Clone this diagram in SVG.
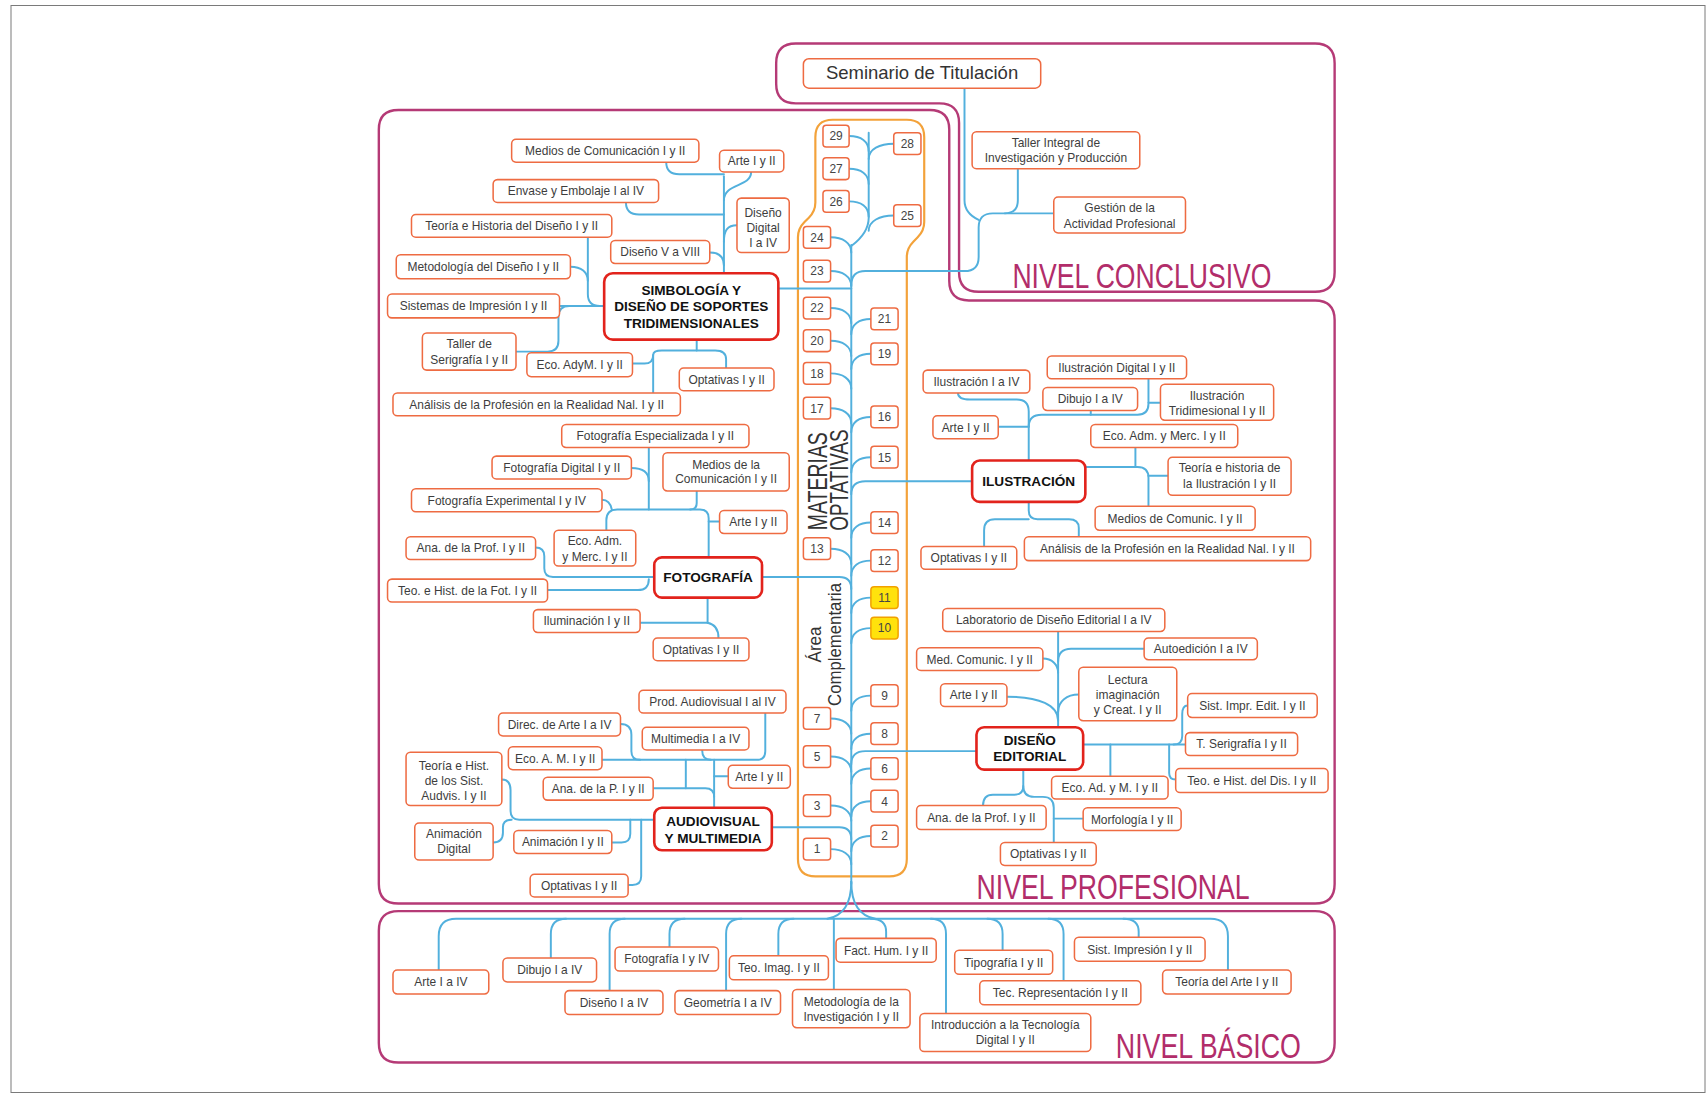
<svg xmlns="http://www.w3.org/2000/svg" width="1707" height="1096" viewBox="0 0 1707 1096">
<style>
  .n rect{fill:#fff;stroke:#ee6b42;stroke-width:1.4}
  .n text{font-family:"Liberation Sans",Arial,sans-serif;font-size:11px;fill:#3d3d3d;text-anchor:middle}
  .g rect{fill:#fff;stroke:#e2231c;stroke-width:2.4}
  .g text{font-family:"Liberation Sans",Arial,sans-serif;font-size:12.5px;font-weight:bold;fill:#111;text-anchor:middle}
  .num rect{fill:#fff;stroke:#ee6b42;stroke-width:1.4}
  .num rect.hl{fill:#ffe20c;stroke:#f2a100}
  .num text{font-family:"Liberation Sans",Arial,sans-serif;font-size:11px;fill:#444;text-anchor:middle}
  #connectors path{fill:none;stroke:#52b0dd;stroke-width:1.8;stroke-linecap:round;stroke-linejoin:round}
  .lvl{fill:none;stroke:#b53a76;stroke-width:2.2}
  .lbl{font-family:"Liberation Sans Narrow","Liberation Sans",Arial,sans-serif;fill:#b22d6a;lengthAdjust:spacingAndGlyphs}
  .vt{font-family:"Liberation Sans Narrow","Liberation Sans",Arial,sans-serif;fill:#333;text-anchor:middle}
</style>
<rect x="11" y="5.5" width="1694" height="1087" fill="#fff" stroke="#7a7a7a" stroke-width="1"/>
<g transform="scale(1.0886)">
  <!-- level frames -->
  <g id="levels">
    <path class="lvl" d="M713,58 Q713,40 731,40 H1208 Q1226,40 1226,58 V250 Q1226,268 1208,268 H899 Q881,268 881,250 V113 Q881,95 863,95 H731 Q713,95 713,77 Z"/>
    <path class="lvl" d="M348,119 Q348,101 366,101 H854 Q872,101 872,119 V258 Q872,276 890,276 H1208 Q1226,276 1226,294 V812 Q1226,830 1208,830 H366 Q348,830 348,812 Z"/>
    <path class="lvl" d="M348,855 Q348,837 366,837 H1208 Q1226,837 1226,855 V958 Q1226,976 1208,976 H366 Q348,976 348,958 Z"/>
    <text class="lbl" x="930" y="265" font-size="33" textLength="238" lengthAdjust="spacingAndGlyphs">NIVEL CONCLUSIVO</text>
    <text class="lbl" x="897" y="826" font-size="33" textLength="251" lengthAdjust="spacingAndGlyphs">NIVEL PROFESIONAL</text>
    <text class="lbl" x="1025" y="972" font-size="33" textLength="170" lengthAdjust="spacingAndGlyphs">NIVEL BÁSICO</text>
  </g>

  <!-- elective column -->
  <g id="optativas">
    <path d="M749,126 Q749,110 765,110 H833 Q849,110 849,126 V204 Q849,212 843,218 L839,222 Q833,228 833,236 V789 Q833,805 817,805 H749 Q733,805 733,789 V218 Q733,210 739,204 L743,200 Q749,194 749,186 Z" fill="none" stroke="#f3a23a" stroke-width="2"/>
    <text class="vt" transform="translate(760,442) rotate(-90)" font-size="26" textLength="90" lengthAdjust="spacingAndGlyphs">MATERIAS</text>
    <text class="vt" transform="translate(779,441) rotate(-90)" font-size="24" textLength="93" lengthAdjust="spacingAndGlyphs">OPTATIVAS</text>
    <text class="vt" transform="translate(754,592) rotate(-90)" font-size="17" textLength="33" lengthAdjust="spacingAndGlyphs">Área</text>
    <text class="vt" transform="translate(773,592) rotate(-90)" font-size="17" textLength="113" lengthAdjust="spacingAndGlyphs">Complementaria</text>
  </g>

  <!-- connectors -->
  <g id="connectors">
    <!-- trunk -->
    <path d="M782,225 V812"/>
    <path d="M798,122 V200 Q798,214 782,226"/>
    <path d="M782,810 Q782,840 760,844"/>
    <path d="M782,810 Q782,840 804,844"/>
    <!-- numbered electives to trunk -->
    <path d="M780,125 C791,125 798,130 798,139"/>
    <path d="M780,155 C791,155 798,160 798,169"/>
    <path d="M780,185 C791,185 798,190 798,199"/>
    <path d="M821,132 C808,132 798,137 798,146"/>
    <path d="M821,198 C808,198 798,203 798,212"/>
    <path d="M763,218 C774,218 782,223 782,232"/>
    <path d="M763,249 C774,249 782,254 782,263"/>
    <path d="M763,283 C774,283 782,288 782,297"/>
    <path d="M763,313 C774,313 782,318 782,327"/>
    <path d="M763,343 C774,343 782,348 782,357"/>
    <path d="M763,375 C774,375 782,380 782,389"/>
    <path d="M763,504 C774,504 782,509 782,518"/>
    <path d="M763,660 C774,660 782,665 782,674"/>
    <path d="M763,695 C774,695 782,700 782,709"/>
    <path d="M763,740 C774,740 782,745 782,754"/>
    <path d="M763,780 C774,780 782,785 782,794"/>
    <path d="M800,293 C789,293 782,298 782,307"/>
    <path d="M800,325 C789,325 782,330 782,339"/>
    <path d="M800,383 C789,383 782,388 782,397"/>
    <path d="M800,420 C789,420 782,425 782,434"/>
    <path d="M800,480 C789,480 782,485 782,494"/>
    <path d="M800,515 C789,515 782,520 782,529"/>
    <path d="M800,549 C789,549 782,554 782,563"/>
    <path d="M800,577 C789,577 782,582 782,591"/>
    <path d="M800,639 C789,639 782,644 782,653"/>
    <path d="M800,674 C789,674 782,679 782,688"/>
    <path d="M800,706 C789,706 782,711 782,720"/>
    <path d="M800,736 C789,736 782,741 782,750"/>
    <path d="M800,768 C789,768 782,773 782,782"/>
    <!-- conclusive level -->
    <path d="M886,81 V184 Q886,196 899,202"/>
    <path d="M968,196 H912 Q899,196 899,209 V236 Q899,249 886,249 H795 Q782,249 782,262"/>
    <path d="M935,155 V184 Q935,196 923,196"/>
    <!-- simbologia -->
    <path d="M715,265 H782"/>
    <path d="M665,251 V162"/>
    <path d="M612,149 Q612,160 624,160 H665"/>
    <path d="M575,186 Q575,197 587,197 H665"/>
    <path d="M690,158 C690,172 665,168 665,184"/>
    <path d="M677,207 C668,207 665,212 665,222"/>
    <path d="M652,232 C660,232 665,236 665,244"/>
    <path d="M540,218 V270 Q540,281 551,281"/>
    <path d="M514,281 H555"/>
    <path d="M524,245 C534,245 540,250 540,258"/>
    <path d="M474,323 H503 Q513,323 513,313 V291 Q513,281 523,281"/>
    <path d="M640,312 V322"/>
    <path d="M581,334 H592 Q600,334 600,326 Q600,322 608,322 H657 Q667,322 667,330 V338"/>
    <path d="M600,326 V361"/>
    <!-- fotografia -->
    <path d="M700,530 H771 Q782,530 782,541"/>
    <path d="M651,512 V476 Q651,468 643,468 H567 Q557,468 557,478 V487"/>
    <path d="M661,479 H651"/>
    <path d="M553,459 C558,459 561,463 562,468"/>
    <path d="M596,411 V468"/>
    <path d="M580,430 C590,430 596,434 596,442"/>
    <path d="M640,451 V462 Q640,468 634,468"/>
    <path d="M492,503 Q500,503 500,511 V522 Q500,530 508,530 H601"/>
    <path d="M503,542 H586 Q596,542 596,532"/>
    <path d="M650,549 V572"/>
    <path d="M588,572 H650"/>
    <path d="M650,572 Q660,574 660,586"/>
    <!-- audiovisual -->
    <path d="M709,760 H771 Q782,760 782,771"/>
    <path d="M656,742 V698"/>
    <path d="M553,698 H695 Q703,698 703,690 V655"/>
    <path d="M570,665 Q580,665 580,675 V690 Q580,698 588,698"/>
    <path d="M645,689 Q645,698 653,698"/>
    <path d="M669,713 H656"/>
    <path d="M630,698 V724"/>
    <path d="M600,724 H648 Q656,724 656,732"/>
    <path d="M461,716 Q469,716 469,726 V745 Q469,753 477,753 H601"/>
    <path d="M453,774 Q462,774 462,765 V760 Q462,753 470,753"/>
    <path d="M562,774 H571 Q579,774 579,766 V753"/>
    <path d="M577,813 H581 Q589,813 589,805 V753"/>
    <!-- ilustracion -->
    <path d="M782,454 Q782,442 795,442 H893"/>
    <path d="M945,423 V378 Q945,367 934,367 H891 Q880,367 880,361"/>
    <path d="M917,392 H945"/>
    <path d="M945,392 Q945,381 957,381 H1045 Q1055,381 1055,371 V348"/>
    <path d="M1002,377 V381"/>
    <path d="M1066,370 H1055"/>
    <path d="M997,429 H1045 Q1055,429 1055,439 V465"/>
    <path d="M1043,411 V429"/>
    <path d="M1073,437 H1055"/>
    <path d="M945,461 V469 Q945,477 953,477 H982 Q991,477 991,485 V493"/>
    <path d="M945,477 H914 Q904,477 904,487 V502"/>
    <!-- diseno editorial -->
    <path d="M897,690 H795 Q782,690 782,702"/>
    <path d="M972,668 V580"/>
    <path d="M1051,596 H984 Q972,596 972,608"/>
    <path d="M958,605 C966,605 972,610 972,618"/>
    <path d="M991,638 C980,638 972,644 972,654"/>
    <path d="M925,640 C955,640 972,648 972,662"/>
    <path d="M995,684 H1089"/>
    <path d="M1078,684 Q1086,684 1086,676 V656 Q1086,648 1091,648"/>
    <path d="M1074,684 V710 Q1074,716 1080,716"/>
    <path d="M1020,684 V713"/>
    <path d="M940,707 V722 Q940,730 932,730 H912 Q903,730 903,740"/>
    <path d="M940,722 Q940,732 950,732 H958 Q968,732 968,742 V774"/>
    <path d="M968,752 H995"/>
    <!-- basic level bus -->
    <path d="M403,891 V860 Q403,844 419,844 H1112 Q1128,844 1128,860 V891"/>
    <path d="M520,844 Q506,844 506,858 V880"/>
    <path d="M574,844 Q560,844 560,858 V910"/>
    <path d="M629,844 Q615,844 615,858 V870"/>
    <path d="M681,844 Q667,844 667,858 V910"/>
    <path d="M729,844 Q715,844 715,858 V878"/>
    <path d="M766,844 V909"/>
    <path d="M800,844 Q814,844 814,856 V862"/>
    <path d="M855,844 Q869,844 869,858 V931"/>
    <path d="M907,844 Q921,844 921,858 V873"/>
    <path d="M963,844 Q977,844 977,858 V901"/>
    <path d="M1032,844 Q1046,844 1046,856 V861"/>
  </g>

  <!-- numbered electives -->
  <g id="numbers" class="num">
    <g id="e29"><rect x="756" y="115" width="24" height="20" rx="3"/><text x="768" y="129">29</text></g>
    <g id="e27"><rect x="756" y="145" width="24" height="20" rx="3"/><text x="768" y="159">27</text></g>
    <g id="e26"><rect x="756" y="175" width="24" height="20" rx="3"/><text x="768" y="189">26</text></g>
    <g id="e28"><rect x="821" y="122" width="25" height="20" rx="3"/><text x="833.5" y="136">28</text></g>
    <g id="e25"><rect x="821" y="188" width="25" height="20" rx="3"/><text x="833.5" y="202">25</text></g>
    <g id="e24"><rect x="738" y="208" width="25" height="20" rx="3"/><text x="750.5" y="222">24</text></g>
    <g id="e23"><rect x="738" y="239" width="25" height="20" rx="3"/><text x="750.5" y="253">23</text></g>
    <g id="e22"><rect x="738" y="273" width="25" height="20" rx="3"/><text x="750.5" y="287">22</text></g>
    <g id="e20"><rect x="738" y="303" width="25" height="20" rx="3"/><text x="750.5" y="317">20</text></g>
    <g id="e18"><rect x="738" y="333" width="25" height="20" rx="3"/><text x="750.5" y="347">18</text></g>
    <g id="e17"><rect x="738" y="365" width="25" height="20" rx="3"/><text x="750.5" y="379">17</text></g>
    <g id="e13"><rect x="738" y="494" width="25" height="20" rx="3"/><text x="750.5" y="508">13</text></g>
    <g id="e7"><rect x="738" y="650" width="25" height="20" rx="3"/><text x="750.5" y="664">7</text></g>
    <g id="e5"><rect x="738" y="685" width="25" height="20" rx="3"/><text x="750.5" y="699">5</text></g>
    <g id="e3"><rect x="738" y="730" width="25" height="20" rx="3"/><text x="750.5" y="744">3</text></g>
    <g id="e1"><rect x="738" y="770" width="25" height="20" rx="3"/><text x="750.5" y="784">1</text></g>
    <g id="e21"><rect x="800" y="283" width="25" height="20" rx="3"/><text x="812.5" y="297">21</text></g>
    <g id="e19"><rect x="800" y="315" width="25" height="20" rx="3"/><text x="812.5" y="329">19</text></g>
    <g id="e16"><rect x="800" y="373" width="25" height="20" rx="3"/><text x="812.5" y="387">16</text></g>
    <g id="e15"><rect x="800" y="410" width="25" height="20" rx="3"/><text x="812.5" y="424">15</text></g>
    <g id="e14"><rect x="800" y="470" width="25" height="20" rx="3"/><text x="812.5" y="484">14</text></g>
    <g id="e12"><rect x="800" y="505" width="25" height="20" rx="3"/><text x="812.5" y="519">12</text></g>
    <g id="e11"><rect class="hl" x="800" y="539" width="25" height="20" rx="3"/><text x="812.5" y="553">11</text></g>
    <g id="e10"><rect class="hl" x="800" y="567" width="25" height="20" rx="3"/><text x="812.5" y="581">10</text></g>
    <g id="e9"><rect x="800" y="629" width="25" height="20" rx="3"/><text x="812.5" y="643">9</text></g>
    <g id="e8"><rect x="800" y="664" width="25" height="20" rx="3"/><text x="812.5" y="678">8</text></g>
    <g id="e6"><rect x="800" y="696" width="25" height="20" rx="3"/><text x="812.5" y="710">6</text></g>
    <g id="e4"><rect x="800" y="726" width="25" height="20" rx="3"/><text x="812.5" y="740">4</text></g>
    <g id="e2"><rect x="800" y="758" width="25" height="20" rx="3"/><text x="812.5" y="772">2</text></g>
  </g>

  <!-- conclusive level -->
  <g id="n-seminario" class="n"><rect x="738" y="54" width="218" height="27" rx="5"/><text x="847" y="73" style="font-size:17px;fill:#333">Seminario de Titulación</text></g>
  <g id="n-taller-integral" class="n"><rect x="893" y="121" width="154" height="34" rx="4"/><text x="970" y="135">Taller Integral de</text><text x="970" y="149">Investigación y Producción</text></g>
  <g id="n-gestion" class="n"><rect x="968" y="181" width="121" height="33" rx="4"/><text x="1028.5" y="195">Gestión de la</text><text x="1028.5" y="209">Actividad Profesional</text></g>

  <!-- simbologia y diseno de soportes tridimensionales -->
  <g id="g-simbologia" class="g"><rect x="555" y="251" width="160" height="61" rx="8"/><text x="635" y="271">SIMBOLOGÍA Y</text><text x="635" y="286">DISEÑO DE SOPORTES</text><text x="635" y="301">TRIDIMENSIONALES</text></g>
  <g id="n-medios-com-1" class="n"><rect x="470" y="128" width="172" height="21" rx="4"/><text x="556" y="142.5">Medios de Comunicación I y II</text></g>
  <g id="n-arte-1" class="n"><rect x="661" y="138" width="59" height="20" rx="4"/><text x="690.5" y="152">Arte I y II</text></g>
  <g id="n-envase" class="n"><rect x="453" y="165" width="152" height="21" rx="4"/><text x="529" y="179.5">Envase y Embolaje I al IV</text></g>
  <g id="n-diseno-digital" class="n"><rect x="677" y="182" width="48" height="50" rx="4"/><text x="701" y="199">Diseño</text><text x="701" y="213">Digital</text><text x="701" y="227">I a IV</text></g>
  <g id="n-teoria-diseno" class="n"><rect x="378" y="197" width="184" height="21" rx="4"/><text x="470" y="211.5">Teoría e Historia del Diseño I y II</text></g>
  <g id="n-diseno-v" class="n"><rect x="561" y="221" width="91" height="21" rx="4"/><text x="606.5" y="235.5">Diseño V a VIII</text></g>
  <g id="n-metodologia" class="n"><rect x="364" y="234" width="160" height="22" rx="4"/><text x="444" y="249">Metodología del Diseño I y II</text></g>
  <g id="n-sistemas" class="n"><rect x="356" y="270" width="158" height="22" rx="4"/><text x="435" y="285">Sistemas de Impresión I y II</text></g>
  <g id="n-taller-serigrafia" class="n"><rect x="388" y="306" width="86" height="34" rx="4"/><text x="431" y="320">Taller de</text><text x="431" y="334">Serigrafía I y II</text></g>
  <g id="n-eco-adym" class="n"><rect x="484" y="324" width="97" height="22" rx="4"/><text x="532.5" y="339">Eco. AdyM. I y II</text></g>
  <g id="n-optativas-1" class="n"><rect x="624" y="338" width="87" height="21" rx="4"/><text x="667.5" y="352.5">Optativas I y II</text></g>
  <g id="n-analisis-1" class="n"><rect x="361" y="361" width="264" height="21" rx="4"/><text x="493" y="375.5">Análisis de la Profesión en la Realidad Nal. I y II</text></g>

  <!-- fotografia -->
  <g id="g-fotografia" class="g"><rect x="601" y="512" width="99" height="37" rx="7"/><text x="650.5" y="535">FOTOGRAFÍA</text></g>
  <g id="n-foto-esp" class="n"><rect x="516" y="390" width="172" height="21" rx="4"/><text x="602" y="404.5">Fotografía Especializada I y II</text></g>
  <g id="n-foto-dig" class="n"><rect x="452" y="419" width="128" height="21" rx="4"/><text x="516" y="433.5">Fotografía Digital I y II</text></g>
  <g id="n-medios-com-2" class="n"><rect x="609" y="416" width="116" height="35" rx="4"/><text x="667" y="431">Medios de la</text><text x="667" y="444">Comunicación I y II</text></g>
  <g id="n-foto-exp" class="n"><rect x="378" y="449" width="175" height="21" rx="4"/><text x="465.5" y="463.5">Fotografía Experimental I y IV</text></g>
  <g id="n-arte-2" class="n"><rect x="661" y="469" width="62" height="21" rx="4"/><text x="692" y="483.5">Arte I y II</text></g>
  <g id="n-eco-adm-2" class="n"><rect x="509" y="487" width="75" height="33" rx="4"/><text x="546.5" y="501">Eco. Adm.</text><text x="546.5" y="515">y Merc. I y II</text></g>
  <g id="n-ana-prof-2" class="n"><rect x="373" y="493" width="119" height="21" rx="4"/><text x="432.5" y="507.5">Ana. de la Prof. I y II</text></g>
  <g id="n-teo-hist-fot" class="n"><rect x="356" y="532" width="147" height="21" rx="4"/><text x="429.5" y="546.5">Teo. e Hist. de la Fot. I y II</text></g>
  <g id="n-iluminacion" class="n"><rect x="490" y="560" width="98" height="21" rx="4"/><text x="539" y="574.5">Iluminación I y II</text></g>
  <g id="n-optativas-2" class="n"><rect x="600" y="586" width="88" height="21" rx="4"/><text x="644" y="600.5">Optativas I y II</text></g>

  <!-- audiovisual y multimedia -->
  <g id="g-audiovisual" class="g"><rect x="601" y="742" width="108" height="39" rx="7"/><text x="655" y="759">AUDIOVISUAL</text><text x="655" y="774">Y MULTIMEDIA</text></g>
  <g id="n-prod-audio" class="n"><rect x="587" y="634" width="135" height="21" rx="4"/><text x="654.5" y="648.5">Prod. Audiovisual I al IV</text></g>
  <g id="n-direc-arte" class="n"><rect x="458" y="655" width="112" height="21" rx="4"/><text x="514" y="669.5">Direc. de Arte I a IV</text></g>
  <g id="n-multimedia" class="n"><rect x="590" y="668" width="98" height="21" rx="4"/><text x="639" y="682.5">Multimedia I a IV</text></g>
  <g id="n-eco-am" class="n"><rect x="467" y="686" width="86" height="21" rx="4"/><text x="510" y="700.5">Eco. A. M. I y II</text></g>
  <g id="n-teoria-sist" class="n"><rect x="373" y="691" width="88" height="49" rx="4"/><text x="417" y="707">Teoría e Hist.</text><text x="417" y="721">de los Sist.</text><text x="417" y="735">Audvis. I y II</text></g>
  <g id="n-arte-3" class="n"><rect x="669" y="703" width="57" height="21" rx="4"/><text x="697.5" y="717.5">Arte I y II</text></g>
  <g id="n-ana-p" class="n"><rect x="499" y="714" width="101" height="21" rx="4"/><text x="549.5" y="728.5">Ana. de la P. I y II</text></g>
  <g id="n-animacion-dig" class="n"><rect x="381" y="756" width="72" height="34" rx="4"/><text x="417" y="770">Animación</text><text x="417" y="784">Digital</text></g>
  <g id="n-animacion" class="n"><rect x="472" y="763" width="90" height="21" rx="4"/><text x="517" y="777.5">Animación I y II</text></g>
  <g id="n-optativas-3" class="n"><rect x="487" y="803" width="90" height="21" rx="4"/><text x="532" y="817.5">Optativas I y II</text></g>

  <!-- ilustracion -->
  <g id="g-ilustracion" class="g"><rect x="893" y="423" width="104" height="38" rx="7"/><text x="945" y="446.5">ILUSTRACIÓN</text></g>
  <g id="n-ilus-1a4" class="n"><rect x="848" y="340" width="98" height="21" rx="4"/><text x="897" y="354.5">Ilustración I a IV</text></g>
  <g id="n-ilus-dig" class="n"><rect x="962" y="327" width="128" height="21" rx="4"/><text x="1026" y="341.5">Ilustración Digital I y II</text></g>
  <g id="n-dibujo-4" class="n"><rect x="958" y="356" width="87" height="21" rx="4"/><text x="1001.5" y="370.5">Dibujo I a IV</text></g>
  <g id="n-ilus-tri" class="n"><rect x="1066" y="353" width="104" height="33" rx="4"/><text x="1118" y="367">Ilustración</text><text x="1118" y="381">Tridimesional I y II</text></g>
  <g id="n-arte-4" class="n"><rect x="857" y="382" width="60" height="21" rx="4"/><text x="887" y="396.5">Arte I y II</text></g>
  <g id="n-eco-adm-4" class="n"><rect x="1002" y="390" width="135" height="21" rx="4"/><text x="1069.5" y="404.5">Eco. Adm. y Merc. I y II</text></g>
  <g id="n-teoria-ilus" class="n"><rect x="1073" y="420" width="113" height="35" rx="4"/><text x="1129.5" y="434">Teoría e historia de</text><text x="1129.5" y="448">la Ilustración I y II</text></g>
  <g id="n-medios-com-4" class="n"><rect x="1006" y="465" width="147" height="22" rx="4"/><text x="1079.5" y="480">Medios de Comunic. I y II</text></g>
  <g id="n-optativas-4" class="n"><rect x="846" y="502" width="88" height="21" rx="4"/><text x="890" y="516.5">Optativas I y II</text></g>
  <g id="n-analisis-4" class="n"><rect x="941" y="493" width="263" height="22" rx="4"/><text x="1072.5" y="508">Análisis de la Profesión en la Realidad Nal. I y II</text></g>

  <!-- diseno editorial -->
  <g id="g-editorial" class="g"><rect x="897" y="668" width="98" height="39" rx="7"/><text x="946" y="684">DISEÑO</text><text x="946" y="699">EDITORIAL</text></g>
  <g id="n-lab-edit" class="n"><rect x="866" y="559" width="204" height="21" rx="4"/><text x="968" y="573.5">Laboratorio de Diseño Editorial I a IV</text></g>
  <g id="n-autoedicion" class="n"><rect x="1051" y="586" width="104" height="20" rx="4"/><text x="1103" y="600">Autoedición I a IV</text></g>
  <g id="n-med-comunic-5" class="n"><rect x="842" y="595" width="116" height="21" rx="4"/><text x="900" y="609.5">Med. Comunic. I y II</text></g>
  <g id="n-arte-5" class="n"><rect x="864" y="628" width="61" height="21" rx="4"/><text x="894.5" y="642.5">Arte I y II</text></g>
  <g id="n-lectura" class="n"><rect x="991" y="613" width="90" height="49" rx="4"/><text x="1036" y="628">Lectura</text><text x="1036" y="642">imaginación</text><text x="1036" y="656">y Creat. I y II</text></g>
  <g id="n-sist-impr" class="n"><rect x="1091" y="637" width="119" height="22" rx="4"/><text x="1150.5" y="652">Sist. Impr. Edit. I y II</text></g>
  <g id="n-t-serigrafia" class="n"><rect x="1089" y="673" width="103" height="21" rx="4"/><text x="1140.5" y="687.5">T. Serigrafía I y II</text></g>
  <g id="n-teo-hist-dis" class="n"><rect x="1080" y="706" width="140" height="22" rx="4"/><text x="1150" y="721">Teo. e Hist. del Dis. I y II</text></g>
  <g id="n-eco-ad-m" class="n"><rect x="966" y="713" width="107" height="21" rx="4"/><text x="1019.5" y="727.5">Eco. Ad. y M. I y II</text></g>
  <g id="n-ana-prof-5" class="n"><rect x="842" y="740" width="119" height="22" rx="4"/><text x="901.5" y="755">Ana. de la Prof. I y II</text></g>
  <g id="n-morfologia" class="n"><rect x="995" y="742" width="90" height="21" rx="4"/><text x="1040" y="756.5">Morfología I y II</text></g>
  <g id="n-optativas-5" class="n"><rect x="919" y="774" width="88" height="21" rx="4"/><text x="963" y="788.5">Optativas I y II</text></g>

  <!-- basic level -->
  <g id="n-arte-b" class="n"><rect x="361" y="891" width="88" height="22" rx="4"/><text x="405" y="906">Arte I a IV</text></g>
  <g id="n-dibujo-b" class="n"><rect x="462" y="880" width="86" height="22" rx="4"/><text x="505" y="895">Dibujo I a IV</text></g>
  <g id="n-diseno-b" class="n"><rect x="519" y="910" width="90" height="22" rx="4"/><text x="564" y="925">Diseño I a IV</text></g>
  <g id="n-foto-b" class="n"><rect x="565" y="870" width="95" height="22" rx="4"/><text x="612.5" y="885">Fotografía I y IV</text></g>
  <g id="n-geometria-b" class="n"><rect x="620" y="910" width="97" height="22" rx="4"/><text x="668.5" y="925">Geometría I a IV</text></g>
  <g id="n-teo-imag-b" class="n"><rect x="670" y="878" width="91" height="22" rx="4"/><text x="715.5" y="893">Teo. Imag. I y II</text></g>
  <g id="n-metod-inv-b" class="n"><rect x="728" y="909" width="108" height="35" rx="4"/><text x="782" y="924">Metodología de la</text><text x="782" y="938">Investigación I y II</text></g>
  <g id="n-fact-hum-b" class="n"><rect x="768" y="862" width="92" height="22" rx="4"/><text x="814" y="877">Fact. Hum. I y II</text></g>
  <g id="n-tipografia-b" class="n"><rect x="877" y="873" width="90" height="22" rx="4"/><text x="922" y="888">Tipografía I y II</text></g>
  <g id="n-intro-tec-b" class="n"><rect x="845" y="931" width="157" height="35" rx="4"/><text x="923.5" y="945">Introducción a la Tecnología</text><text x="923.5" y="959">Digital I y II</text></g>
  <g id="n-tec-rep-b" class="n"><rect x="900" y="901" width="148" height="22" rx="4"/><text x="974" y="916">Tec. Representación I y II</text></g>
  <g id="n-sist-imp-b" class="n"><rect x="987" y="861" width="120" height="22" rx="4"/><text x="1047" y="876">Sist. Impresión I y II</text></g>
  <g id="n-teoria-arte-b" class="n"><rect x="1068" y="891" width="118" height="22" rx="4"/><text x="1127" y="906">Teoría del Arte I y II</text></g>
</g>
</svg>
